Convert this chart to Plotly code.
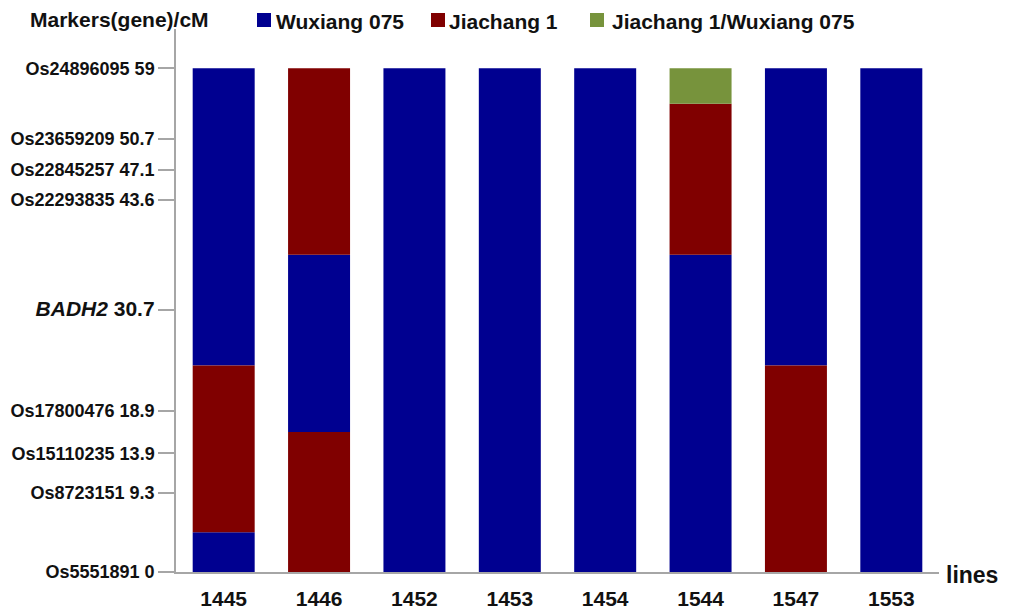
import plotly.graph_objects as go

# Lines (x categories)
lines = ["1445", "1446", "1452", "1453", "1454", "1544", "1547", "1553"]

# Marker positions on the linkage map (cM) and their names
marker_pos = [0, 9.3, 13.9, 18.9, 30.7, 43.6, 47.1, 50.7, 59]
marker_names = ["Os5551891", "Os8723151", "Os15110235", "Os17800476", "BADH2",
                "Os22293835", "Os22845257", "Os23659209", "Os24896095"]
marker_text = ["0", "9.3", "13.9", "18.9", "30.7", "43.6", "47.1", "50.7", "59"]

# Genotype segments along each line: (line, start cM, end cM, genotype)
seg_line = ["1445", "1445", "1445",
            "1446", "1446", "1446",
            "1452", "1453", "1454",
            "1544", "1544", "1544",
            "1547", "1547",
            "1553"]
seg_start = [0, 4.65, 24.2,
             0, 16.4, 37.15,
             0, 0, 0,
             0, 37.15, 54.85,
             0, 24.2,
             0]
seg_end = [4.65, 24.2, 59,
           16.4, 37.15, 59,
           59, 59, 59,
           37.15, 54.85, 59,
           24.2, 59,
           59]
seg_geno = ["Wuxiang 075", "Jiachang 1", "Wuxiang 075",
            "Jiachang 1", "Wuxiang 075", "Jiachang 1",
            "Wuxiang 075", "Wuxiang 075", "Wuxiang 075",
            "Wuxiang 075", "Jiachang 1", "Jiachang 1/Wuxiang 075",
            "Jiachang 1", "Wuxiang 075",
            "Wuxiang 075"]

genotypes = ["Wuxiang 075", "Jiachang 1", "Jiachang 1/Wuxiang 075"]
geno_colors = {"Wuxiang 075": "#000090",
               "Jiachang 1": "#800000",
               "Jiachang 1/Wuxiang 075": "#77933C"}

FONT = "Liberation Sans, Arial, sans-serif"

# Plot area in pixels
L, R, T, B = 176, 939, 29, 572
W, H = R - L, B - T


def px(x):
    return (x - L) / W


def py(y):
    return (B - y) / H


fig = go.Figure()
for g in genotypes:
    idx = [i for i, s in enumerate(seg_geno) if s == g]
    fig.add_trace(go.Bar(
        name=g,
        x=[seg_line[i] for i in idx],
        base=[seg_start[i] for i in idx],
        y=[seg_end[i] - seg_start[i] for i in idx],
        marker=dict(color=geno_colors[g], line=dict(width=0)),
        width=0.65,
        showlegend=False,
    ))

fig.update_layout(
    width=1016, height=611,
    margin=dict(l=L, r=1016 - R, t=T, b=611 - B),
    paper_bgcolor="white", plot_bgcolor="white",
    barmode="overlay",
    font=dict(family=FONT, color="#111111"),
)

fig.update_xaxes(
    type="category", categoryorder="array", categoryarray=lines,
    range=[-0.5, 7.5], automargin=False,
    showline=True, linecolor="#A6A6A6", linewidth=1.5,
    ticks="", showgrid=False, zeroline=False,
    tickfont=dict(family=FONT, size=21, color="#111111", weight="bold"),
    ticklabelstandoff=7,
)


def tick_label(name, val):
    if name == "BADH2":
        return f"<span style='font-size:21px'><i>{name}</i> {val}</span>"
    return f"{name} {val}"


fig.update_yaxes(
    range=[0, 63.6], automargin=False,
    tickmode="array", tickvals=marker_pos,
    ticktext=[tick_label(n, t) for n, t in zip(marker_names, marker_text)],
    showline=True, linecolor="#A6A6A6", linewidth=1.5,
    ticks="outside", ticklen=16, tickcolor="#A6A6A6", tickwidth=1.5,
    showgrid=False, zeroline=False,
    tickfont=dict(family=FONT, size=18, color="#111111", weight="bold"),
)

# Axis titles
fig.add_annotation(text="<b>Markers(gene)/cM</b>", xref="paper", yref="paper",
                   x=px(211), y=py(19), xanchor="right", yanchor="middle",
                   showarrow=False, font=dict(family=FONT, size=21, color="#111111"))
fig.add_annotation(text="<b>lines</b>", xref="paper", yref="paper",
                   x=px(944), y=py(575), xanchor="left", yanchor="middle",
                   showarrow=False, font=dict(family=FONT, size=23, color="#111111"))

# Legend drawn as swatches with labels across the top
legend_sq_x = [257, 431, 590]
legend_text_x = [274, 447, 610]
for g, sx, tx in zip(genotypes, legend_sq_x, legend_text_x):
    fig.add_shape(type="rect", xref="paper", yref="paper",
                  x0=px(sx), x1=px(sx + 14),
                  y0=py(27), y1=py(13),
                  fillcolor=geno_colors[g], line=dict(width=0))
    fig.add_annotation(text=f"<b>{g}</b>", xref="paper", yref="paper",
                       x=px(tx), y=py(21), xanchor="left", yanchor="middle",
                       showarrow=False, font=dict(family=FONT, size=21, color="#111111"))

fig.write_html("out.html")
